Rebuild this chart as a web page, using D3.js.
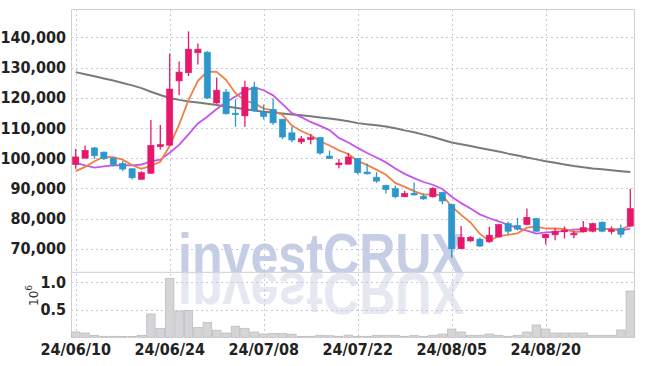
<!DOCTYPE html>
<html>
<head>
<meta charset="utf-8">
<script src="https://cdn.jsdelivr.net/npm/d3@7"></script>
<style>
  body { margin: 0; background: #fff; }
  .tick text { font-family: "Liberation Sans Narrow", "DejaVu Sans Condensed", sans-serif; font-weight: bold; font-size: 16px; fill: #222; }
</style>
</head>
<body>
<svg id="chart" width="645" height="366"></svg>
<script>
const dates = ["24/06/10","24/06/11","24/06/12","24/06/13","24/06/14","24/06/17","24/06/18","24/06/19","24/06/20","24/06/21",
  "24/06/24","24/06/25","24/06/26","24/06/27","24/06/28","24/07/01","24/07/02","24/07/03","24/07/04","24/07/05",
  "24/07/08","24/07/09","24/07/10","24/07/11","24/07/12","24/07/15","24/07/16","24/07/17","24/07/18","24/07/19",
  "24/07/22","24/07/23","24/07/24","24/07/25","24/07/26","24/07/29","24/07/30","24/07/31","24/08/01","24/08/02",
  "24/08/05","24/08/06","24/08/07","24/08/08","24/08/09","24/08/12","24/08/13","24/08/14","24/08/16","24/08/19",
  "24/08/20","24/08/21","24/08/22","24/08/23","24/08/26","24/08/27","24/08/28","24/08/29","24/08/30","24/09/02"];

const open = [97900,100000,103400,102000,100000,98300,96500,93000,95000,103800,
  104300,125600,128300,134900,135100,118300,121900,114900,114000,123500,
  115200,116200,112900,108400,105400,106200,106800,100700,97800,98000,
  99900,95400,93700,91000,89900,87200,88400,87400,87200,88700,
  84700,70000,72600,73200,72300,73900,78300,77700,78000,80000,
  73600,74600,75600,74600,75600,75800,78800,75700,76700,77500];
const high = [103000,104200,103700,102200,100300,99100,96700,95700,112600,111000,
  134700,132000,142000,138000,135400,126700,122900,119500,125600,125300,
  117800,119800,113000,110500,107300,108000,107000,102500,99700,101700,
  100000,98200,95400,91200,90900,89200,91900,88300,90400,88900,
  85000,77500,74200,73700,77300,78300,78900,80200,83300,80300,
  75000,76900,77400,76000,79200,78600,79000,77400,78000,89900];
const low = [96500,99900,99700,99400,97200,95700,92900,92900,94800,102900,
  104000,120800,127200,131000,119600,118000,114500,110400,110400,115400,
  112800,111100,106300,105300,104700,104600,101100,99700,96700,97900,
  94700,94600,91800,88300,86700,87100,87600,86200,87000,84700,
  67000,70000,72300,70600,72000,73700,74800,76100,77800,75600,
  71400,72800,73400,73500,75400,75500,75500,74800,73700,77300];
const close = [100400,102600,100800,99800,97800,96400,93500,95200,104200,104500,
  122900,128500,136100,136100,119900,122500,114700,114400,123500,115700,
  113800,111700,107000,106000,106400,106800,101700,99900,98400,100400,
  95200,94800,92400,89600,87200,88300,87800,86500,90000,85800,
  70000,73800,73800,70900,74500,78000,75800,76500,80400,75800,
  74800,75800,76200,75100,77000,78300,75800,76300,74800,83300];
const volume = [96000,78000,36000,18000,18000,15000,15000,36000,424000,163000,
  1070000,478000,490000,180000,270000,127000,78000,200000,163000,96000,
  60000,70000,70000,55000,18000,18000,36000,30000,18000,40000,
  18000,18000,36000,36000,36000,18000,36000,18000,36000,60000,
  150000,96000,36000,36000,60000,36000,18000,36000,96000,224000,
  150000,78000,78000,78000,78000,36000,36000,36000,133000,840000];

const ma5 = [95700,97100,99000,100400,100300,99500,97700,96500,97400,98800,
  104100,111100,119200,125600,128700,128600,125900,121500,119000,118200,
  116400,115800,114300,110800,109000,107600,105600,104200,102600,101400,
  99100,97700,96200,94500,91800,90500,89100,87900,88000,87700,
  84000,81200,78700,74900,72600,74200,74600,75100,77000,77300,
  76700,76700,76600,75500,75800,76500,76500,76500,76400,77700];
const ma10 = [98400,97600,96900,97300,97600,97700,97600,97900,98900,99500,
  101800,104400,107900,111500,113700,116300,118500,120400,122300,123400,
  122500,120800,117900,114900,113600,112000,110700,109300,106700,105200,
  103400,101700,100200,98600,96600,94800,93400,92100,91200,89800,
  87200,85100,83300,81400,80100,79100,77900,76900,76000,75000,
  75400,75600,75900,76300,76500,76600,76600,76600,76000,76700];
const maLong = [128500,127800,127100,126400,125700,124900,124100,123200,122000,120900,
  119900,119300,118800,118400,118000,117600,117100,116700,116200,115800,
  115400,115100,114800,114500,114200,113900,113500,113100,112700,112200,
  111600,111200,110900,110500,109900,109200,108600,107800,107000,106100,
  105200,104600,104000,103400,102800,102200,101500,100900,100200,99600,
  99000,98500,97900,97400,97000,96600,96300,96000,95700,95400];

const priceTicks = [70000,80000,90000,100000,110000,120000,130000,140000];
const volumeTicks = [500000,1000000];
const dateTicks = ["24/06/10","24/06/24","24/07/08","24/07/22","24/08/05","24/08/20"];

const svg = d3.select("#chart");
const plotLeft = 71, plotRight = 635, plotTop = 9, split = 272.3, plotBottom = 337.3;

const x = d3.scaleBand().domain(dates).range([plotLeft, plotRight]).padding(0);
const y = d3.scaleLinear().domain([62200, 149400]).range([split, plotTop]);
const yv = d3.scaleLinear().domain([0, 1180000]).range([plotBottom, split]);
const cx = (d) => x(d) + x.bandwidth() / 2;

svg.append("rect").attr("width", 645).attr("height", 366).attr("fill", "#fff");

const defs = svg.append("defs");
defs.append("clipPath").attr("id", "clipPrice").append("rect")
  .attr("x", plotLeft).attr("y", plotTop).attr("width", plotRight - plotLeft).attr("height", split - plotTop);
defs.append("clipPath").attr("id", "clipVol").append("rect")
  .attr("x", plotLeft).attr("y", split).attr("width", plotRight - plotLeft).attr("height", plotBottom - split);

// watermark and its reflection
const wmX = 178, wmBase = 275;
svg.append("text")
  .attr("clip-path", "url(#clipPrice)")
  .attr("x", wmX).attr("y", wmBase)
  .attr("textLength", 287).attr("lengthAdjust", "spacingAndGlyphs")
  .style("font-family", "Liberation Sans, Arial, sans-serif").style("font-weight", "bold")
  .style("font-size", "59px").attr("fill", "#c6cee6")
  .text("investCRUX");
svg.append("g").attr("clip-path", "url(#clipVol)")
  .append("text")
  .attr("transform", `translate(0,${2 * wmBase - 2}) scale(1,-1)`)
  .attr("x", wmX).attr("y", wmBase)
  .attr("textLength", 287).attr("lengthAdjust", "spacingAndGlyphs")
  .style("font-family", "Liberation Sans, Arial, sans-serif").style("font-weight", "bold")
  .style("font-size", "59px").attr("fill", "#e6e8f1")
  .text("investCRUX");

// grid
const grid = svg.append("g").attr("stroke", "#c6c9dc").attr("stroke-dasharray", "2,3").attr("stroke-width", 1);
grid.selectAll(".gy").data(priceTicks).join("line")
  .attr("x1", plotLeft).attr("x2", plotRight)
  .attr("y1", (d) => Math.round(y(d)) + 0.5).attr("y2", (d) => Math.round(y(d)) + 0.5);
grid.selectAll(".gv").data(volumeTicks).join("line")
  .attr("x1", plotLeft).attr("x2", plotRight)
  .attr("y1", (d) => Math.round(yv(d)) + 0.5).attr("y2", (d) => Math.round(yv(d)) + 0.5);
grid.selectAll(".gx").data(dateTicks).join("line")
  .attr("x1", (d) => Math.round(cx(d)) + 0.5).attr("x2", (d) => Math.round(cx(d)) + 0.5)
  .attr("y1", plotTop).attr("y2", plotBottom);

// frame
const frame = svg.append("g").attr("stroke", "#cfcfd4").attr("stroke-width", 1).attr("fill", "none");
frame.append("path").attr("d", `M${plotLeft + 0.5},${plotBottom}V${plotTop + 0.5}H${plotRight - 0.5}V${plotBottom}`);
frame.append("line").attr("x1", plotLeft).attr("x2", plotRight).attr("y1", split).attr("y2", split);

// volume bars
svg.append("g").selectAll("rect").data(dates).join("rect")
  .attr("x", (d) => x(d) + 0.5)
  .attr("y", (d, i) => yv(volume[i]))
  .attr("width", x.bandwidth() - 1)
  .attr("height", (d, i) => yv(0) - yv(volume[i]))
  .attr("fill", "#d5d5d7").attr("stroke", "#bdbdc0").attr("stroke-width", 0.8);

// moving averages
const line = (arr) => d3.line().x((d, i) => cx(dates[i])).y((d) => y(d))(arr);
const lines = svg.append("g").attr("fill", "none").attr("clip-path", "url(#clipPrice)");
lines.append("path").attr("d", line(maLong)).attr("stroke", "#7a7a7a").attr("stroke-width", 2);
lines.append("path").attr("d", line(ma10)).attr("stroke", "#c655e8").attr("stroke-width", 1.8);
lines.append("path").attr("d", line(ma5)).attr("stroke", "#ef8148").attr("stroke-width", 1.8);

// candles
const up = "#e5186b", down = "#2d97c9";
const candles = svg.append("g").selectAll("g").data(dates).join("g")
  .attr("fill", (d, i) => (close[i] >= open[i] ? up : down))
  .attr("stroke", (d, i) => (close[i] >= open[i] ? up : down));
candles.append("line")
  .attr("x1", (d) => cx(d)).attr("x2", (d) => cx(d))
  .attr("y1", (d, i) => y(high[i])).attr("y2", (d, i) => y(low[i]))
  .attr("stroke-width", 1.3);
candles.append("rect")
  .attr("x", (d) => cx(d) - 3.1)
  .attr("width", 6.2)
  .attr("y", (d, i) => y(Math.max(open[i], close[i])))
  .attr("height", (d, i) => Math.max(1.5, Math.abs(y(open[i]) - y(close[i]))))
  .attr("stroke-width", 0.6);

// axes
svg.append("g").attr("transform", `translate(${plotLeft},0)`)
  .call(d3.axisLeft(y).tickValues(priceTicks).tickFormat(d3.format(",")).tickSize(0).tickPadding(5))
  .call((g) => g.select(".domain").remove());
svg.append("g").attr("transform", `translate(${plotLeft},0)`)
  .call(d3.axisLeft(yv).tickValues(volumeTicks).tickFormat((d) => (d / 1e6).toFixed(1)).tickSize(0).tickPadding(5))
  .call((g) => g.select(".domain").remove());
svg.append("g").attr("transform", `translate(0,${plotBottom})`)
  .call(d3.axisBottom(x).tickValues(dateTicks).tickSize(0).tickPadding(6))
  .call((g) => g.select(".domain").remove());

const unit = svg.append("text")
  .attr("transform", "translate(38,306) rotate(-90)")
  .style("font-family", "DejaVu Sans, sans-serif").style("font-size", "12px").attr("fill", "#333");
unit.append("tspan").text("10");
unit.append("tspan").attr("dy", -6).style("font-size", "9px").text("6");
</script>
</body>
</html>
